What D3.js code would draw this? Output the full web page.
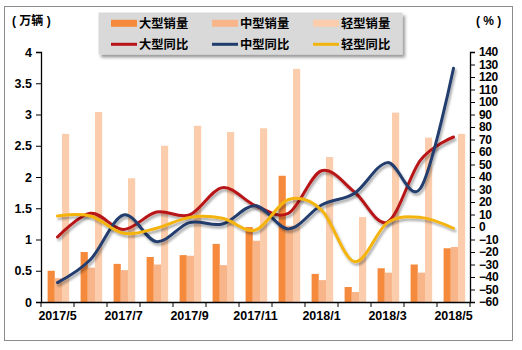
<!DOCTYPE html>
<html><head><meta charset="utf-8">
<script src="https://cdn.jsdelivr.net/npm/d3@7"></script>
<style>
html,body{margin:0;padding:0;background:#fff;}
svg{display:block;font-family:Arial,"Liberation Sans","Noto Sans CJK SC",sans-serif;font-weight:bold;}
</style></head><body>
<svg id="c" width="522" height="350"></svg>
<script>
const categories = ["2017/5","2017/6","2017/7","2017/8","2017/9","2017/10","2017/11","2017/12","2018/1","2018/2","2018/3","2018/4","2018/5"];
const tickLabels = ["2017/5","2017/7","2017/9","2017/11","2018/1","2018/3","2018/5"];
const largeSales  = [0.50,0.80,0.61,0.72,0.75,0.93,1.20,2.02,0.45,0.24,0.54,0.60,0.86];
const mediumSales = [0.38,0.55,0.51,0.60,0.74,0.59,0.98,1.22,0.35,0.16,0.47,0.47,0.88];
const lightSales  = [2.69,3.04,1.98,2.50,2.82,2.72,2.78,3.73,2.32,1.36,3.03,2.63,2.69];
const largeYoY  = [-8,11,-2,12,9.6,31.5,17,11,45,28,4,53.5,72];
const mediumYoY = [-44.5,-26,9.6,-11.7,3.5,2.4,17,-1.5,17.6,27,51.5,31,127];
const lightYoY  = [8.8,8.8,-5,-1,7.7,7,-2.4,22,13.6,-27.7,3.5,7.7,-1];
const leftTicks = [0,0.5,1,1.5,2,2.5,3,3.5,4];
const rightTicks = d3.range(-60,141,10);

const svg = d3.select("#c");
const defs = svg.append("defs");
const f = defs.append("filter").attr("id","sh").attr("x","-10%").attr("y","-10%").attr("width","130%").attr("height","140%");
f.append("feDropShadow").attr("dx",1.5).attr("dy",2.5).attr("stdDeviation",1.3).attr("flood-color","#000").attr("flood-opacity",0.35);
const f2 = defs.append("filter").attr("id","lsh").attr("x","-5%").attr("y","-10%").attr("width","115%").attr("height","140%");
f2.append("feDropShadow").attr("dx",2.5).attr("dy",3).attr("stdDeviation",1.8).attr("flood-color","#000").attr("flood-opacity",0.4);

// outer border
svg.append("rect").attr("x",4.5).attr("y",6.5).attr("width",508).attr("height",334)
  .attr("fill","#fff").attr("stroke","#8c8c8c").attr("stroke-width",1);

const x = d3.scaleBand().domain(categories).range([41,470]).paddingInner(0).paddingOuter(0);
const yL = d3.scaleLinear().domain([0,4]).range([302,52]);
const yR = d3.scaleLinear().domain([-60,140]).range([302,52]);
const bw = x.bandwidth();
const barW = bw*0.218, off = bw*0.2;

const series = [
  {vals:largeSales, color:"#F58A3D", i:0},
  {vals:mediumSales, color:"#F8B589", i:1},
  {vals:lightSales, color:"#FBCDAD", i:2}
];
const gb = svg.append("g");
series.forEach(s=>{
  gb.selectAll(null).data(s.vals).enter().append("rect")
    .attr("x",(d,i)=>x(categories[i])+off+s.i*barW)
    .attr("width",barW)
    .attr("y",d=>yL(d)).attr("height",d=>yL(0)-yL(d))
    .attr("fill",s.color);
});

// axes
const axL = svg.append("g").attr("transform","translate(41,0)")
  .call(d3.axisLeft(yL).tickValues(leftTicks).tickSize(5).tickPadding(4).tickFormat(d=>d3.format("~g")(d)));
const axR = svg.append("g").attr("transform","translate(470,0)")
  .call(d3.axisRight(yR).tickValues(rightTicks).tickSize(5).tickPadding(4));
const axB = svg.append("g").attr("transform","translate(0,302)")
  .call(d3.axisBottom(x).tickSize(0).tickPadding(9).tickFormat(d=>tickLabels.includes(d)?d:""));
// boundary ticks for x axis
axB.selectAll(".bt").data(d3.range(categories.length+1)).enter().append("line")
  .attr("x1",i=>41+i*bw).attr("x2",i=>41+i*bw).attr("y1",0).attr("y2",5).attr("stroke","#000");
[axL,axR,axB].forEach(a=>{
  a.selectAll("path.domain").attr("stroke","#000").attr("stroke-width",1.3);
  a.selectAll("line").attr("stroke","#000");
  a.selectAll("text").attr("font-size",12.5).attr("font-weight","bold").attr("fill","#000")
   .attr("font-family","Arial,'Liberation Sans',sans-serif");
});
axR.selectAll("text").attr("font-size",12).attr("letter-spacing","-0.4");

// lines
const lineGen = v => d3.line().x((d,i)=>x(categories[i])+bw/2).y(d=>yR(d)).curve(d3.curveCardinal.tension(0))(v);
const lines = [
  {vals:largeYoY, color:"#B81418"},
  {vals:mediumYoY, color:"#213D6E"},
  {vals:lightYoY, color:"#F4B40E"}
];
const gl = svg.append("g");
lines.forEach(l=>{
  gl.append("path").attr("d",lineGen(l.vals)).attr("fill","none").attr("stroke",l.color)
    .attr("stroke-width",3).attr("stroke-linecap","round").attr("filter","url(#sh)");
});

// unit labels
svg.append("text").attr("x",12).attr("y",21).attr("dominant-baseline","central")
  .attr("font-size",12).attr("font-family","Arial,'Noto Sans CJK SC',sans-serif").attr("font-weight","bold").text("( 万辆 )");
svg.append("text").attr("x",476).attr("y",21).attr("dominant-baseline","central")
  .attr("font-size",12).attr("font-family","Arial,'Noto Sans CJK SC',sans-serif").attr("font-weight","bold").text("( % )");

// legend
const lg = svg.append("g");
lg.append("rect").attr("x",98.5).attr("y",12.5).attr("width",304).attr("height",42)
  .attr("fill","#D9D9D9").attr("filter","url(#lsh)");
const legendItems = [
  {name:"大型销量", type:"bar", color:"#F58A3D"},
  {name:"中型销量", type:"bar", color:"#F8B589"},
  {name:"轻型销量", type:"bar", color:"#FBCDAD"},
  {name:"大型同比", type:"line", color:"#B81418"},
  {name:"中型同比", type:"line", color:"#213D6E"},
  {name:"轻型同比", type:"line", color:"#F4B40E"}
];
legendItems.forEach((it,k)=>{
  const col = k%3, row = Math.floor(k/3);
  const sx = 111 + col*101, cy = 23.3 + row*21;
  if(it.type==="bar"){
    lg.append("rect").attr("x",sx).attr("y",cy-3.5).attr("width",26).attr("height",7).attr("fill",it.color);
  } else {
    lg.append("line").attr("x1",sx).attr("x2",sx+26).attr("y1",cy).attr("y2",cy)
      .attr("stroke",it.color).attr("stroke-width",3);
  }
  lg.append("text").attr("x",sx+28).attr("y",cy).attr("dominant-baseline","central")
    .attr("font-size",12.3).attr("font-family","'Noto Sans CJK SC',sans-serif").attr("font-weight","bold")
    .attr("fill","#000").text(it.name);
});
</script></body></html>
